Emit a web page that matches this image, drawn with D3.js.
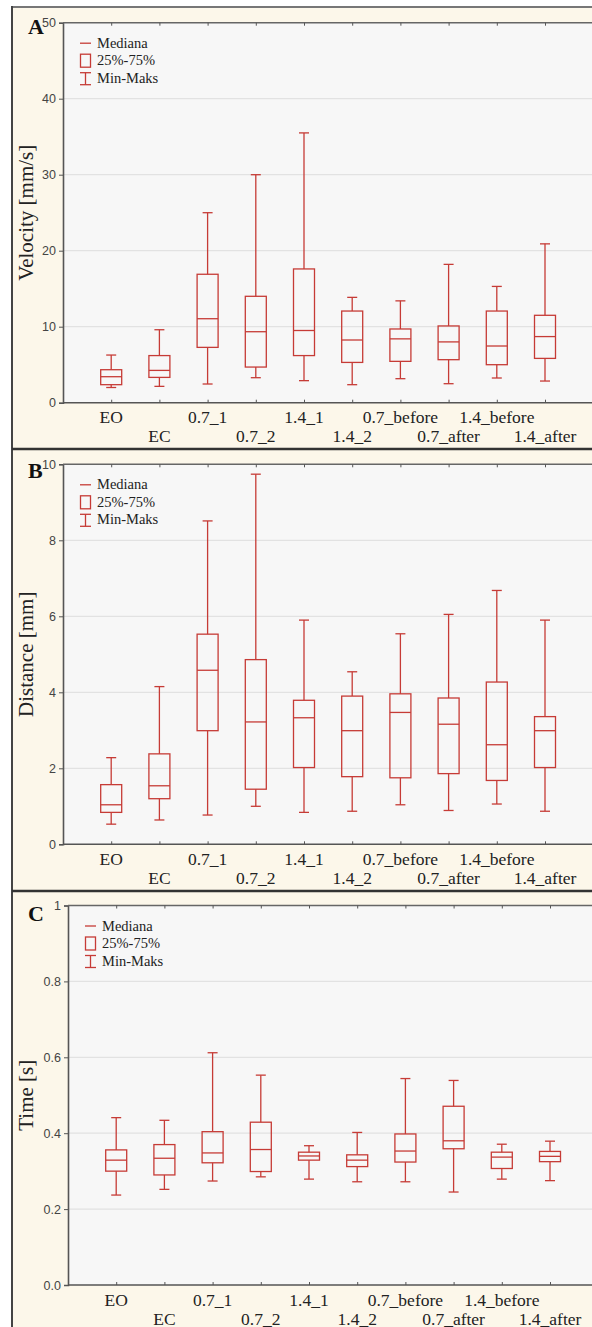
<!DOCTYPE html>
<html><head><meta charset="utf-8">
<script src="https://cdn.jsdelivr.net/npm/d3@7"></script>
<style>
html,body{margin:0;padding:0;background:#fff;}
svg{display:block;}
</style></head>
<body>
<svg id="chart" width="592" height="1327"></svg>
<script>
const categories = ["EO","EC","0.7_1","0.7_2","1.4_1","1.4_2","0.7_before","0.7_after","1.4_before","1.4_after"];

// Panel A: Velocity [mm/s]
const velMin = [2.0, 2.15, 2.46, 3.29, 2.9, 2.37, 3.16, 2.5, 3.25, 2.85];
const velQ1  = [2.37, 3.33, 7.28, 4.69, 6.2, 5.3, 5.44, 5.66, 5.0, 5.83];
const velMed = [3.42, 4.25, 11.05, 9.34, 9.5, 8.25, 8.4, 8.0, 7.46, 8.7];
const velQ3  = [4.34, 6.2, 16.9, 14.0, 17.6, 12.06, 9.7, 10.1, 12.06, 11.5];
const velMax = [6.27, 9.6, 25.0, 30.0, 35.5, 13.86, 13.4, 18.2, 15.3, 20.9];
const velTicks = [0, 10, 20, 30, 40, 50];
const velTickLabels = ["0","10","20","30","40","50"];

// Panel B: Distance [mm]
const distMin = [0.53, 0.64, 0.77, 1.0, 0.84, 0.87, 1.04, 0.89, 1.06, 0.87];
const distQ1  = [0.84, 1.2, 2.99, 1.45, 2.02, 1.78, 1.75, 1.86, 1.68, 2.02];
const distMed = [1.04, 1.54, 4.58, 3.22, 3.33, 2.99, 3.47, 3.16, 2.62, 2.99];
const distQ3  = [1.57, 2.38, 5.53, 4.86, 3.79, 3.9, 3.96, 3.85, 4.27, 3.36];
const distMax = [2.28, 4.15, 8.51, 9.74, 5.9, 4.54, 5.54, 6.05, 6.68, 5.9];
const distTicks = [0, 2, 4, 6, 8, 10];
const distTickLabels = ["0","2","4","6","8","10"];

// Panel C: Time [s]
const timeMin = [0.237, 0.252, 0.274, 0.285, 0.279, 0.272, 0.272, 0.245, 0.279, 0.275];
const timeQ1  = [0.300, 0.290, 0.322, 0.299, 0.329, 0.312, 0.324, 0.359, 0.307, 0.325];
const timeMed = [0.329, 0.334, 0.348, 0.357, 0.340, 0.329, 0.353, 0.380, 0.337, 0.339];
const timeQ3  = [0.356, 0.370, 0.404, 0.429, 0.350, 0.343, 0.398, 0.471, 0.350, 0.352];
const timeMax = [0.441, 0.434, 0.612, 0.553, 0.367, 0.402, 0.544, 0.539, 0.371, 0.379];
const timeTicks = [0, 0.2, 0.4, 0.6, 0.8, 1];
const timeTickLabels = ["0.0","0.2","0.4","0.6","0.8","1"];

const legendLabels = ["Mediana","25%-75%","Min-Maks"];

const RED = "#c63b36";
const CREAM = "#fcf7ea";
const PLOTBG = "#f7f7f7";
const GRID = "#e2e2e2";
const AXIS = "#555";
const SERIF = "'Liberation Serif','Times New Roman',serif";
const SANS = "'Liberation Sans',Arial,sans-serif";

const svg = d3.select("#chart");

// cream background of the framed figure
svg.append("rect").attr("x",12).attr("y",7).attr("width",592-12).attr("height",1327-7).attr("fill",CREAM);

const panels = [
  {letter:"A", title:"Velocity [mm/s]", frameTop:7, top:22.7, bottom:402.7, left:63, letterY:34,
   min:velMin,q1:velQ1,med:velMed,q3:velQ3,max:velMax,ticks:velTicks,tickLabels:velTickLabels,domain:[0,50]},
  {letter:"B", title:"Distance [mm]", frameTop:449, top:464.3, bottom:844.3, left:63, letterY:478,
   min:distMin,q1:distQ1,med:distMed,q3:distQ3,max:distMax,ticks:distTicks,tickLabels:distTickLabels,domain:[0,10]},
  {letter:"C", title:"Time [s]", frameTop:891, top:905.5, bottom:1285, left:68, letterY:921,
   min:timeMin,q1:timeQ1,med:timeMed,q3:timeQ3,max:timeMax,ticks:timeTicks,tickLabels:timeTickLabels,domain:[0,1]}
];

panels.forEach(p => {
  const right = p.left + 48.2*11;
  const x = d3.scalePoint().domain(categories).range([p.left, right]).padding(1);
  const y = d3.scaleLinear().domain(p.domain).range([p.bottom, p.top]);
  const g = svg.append("g");

  // plot background
  g.append("rect").attr("x",p.left).attr("y",p.top).attr("width",right-p.left).attr("height",p.bottom-p.top).attr("fill",PLOTBG);

  // gridlines
  g.append("g").selectAll("line").data(p.ticks.slice(1,-1)).join("line")
    .attr("x1",p.left).attr("x2",right).attr("y1",d=>y(d)).attr("y2",d=>y(d))
    .attr("stroke",GRID).attr("stroke-width",1.2);

  // left axis
  const yAxis = d3.axisLeft(y).tickValues(p.ticks).tickSize(4).tickPadding(3)
    .tickFormat((d,i)=>p.tickLabels[i]);
  const ya = g.append("g").attr("transform",`translate(${p.left},0)`).call(yAxis);
  ya.select(".domain").attr("stroke",AXIS).attr("stroke-width",1.6);
  ya.selectAll(".tick line").attr("stroke",AXIS).attr("stroke-width",1);
  ya.selectAll(".tick text").attr("font-family",SANS).attr("font-size",12.5).attr("fill","#444");

  // bottom axis (inward ticks), labels drawn separately in two rows
  const xb = d3.axisBottom(x).tickSize(-3).tickFormat("");
  const xa = g.append("g").attr("transform",`translate(0,${p.bottom})`).call(xb);
  xa.select(".domain").attr("stroke",AXIS).attr("stroke-width",1.6).attr("d",`M${p.left},0H${right}`);
  xa.selectAll(".tick line").attr("stroke",AXIS);

  // top axis (inward ticks)
  const xt = d3.axisTop(x).tickSize(-3).tickFormat("");
  const ta = g.append("g").attr("transform",`translate(0,${p.top})`).call(xt);
  ta.select(".domain").attr("stroke","#666").attr("stroke-width",1.6).attr("d",`M${p.left},0H${right}`);
  ta.selectAll(".tick line").attr("stroke",AXIS);

  // category labels in two rows
  g.append("g").selectAll("text").data(categories).join("text")
    .attr("x",d=>x(d)).attr("y",(d,i)=> p.bottom + (i%2===0 ? 20.5 : 39.5))
    .attr("text-anchor","middle").attr("font-family",SERIF).attr("font-size",17.5).attr("fill","#222")
    .text(d=>d);

  // y title
  g.append("text").attr("transform",`translate(33,${(p.top+p.bottom)/2}) rotate(-90)`)
    .attr("text-anchor","middle").attr("font-family",SERIF).attr("font-size",21).attr("fill","#222")
    .text(p.title);

  // panel letter
  g.append("text").attr("x",28).attr("y",p.letterY).attr("font-family",SERIF).attr("font-weight","bold")
    .attr("font-size",22).attr("fill","#111").text(p.letter);

  // boxes
  const bw = 21, cw = 10;
  const bx = g.append("g").attr("stroke",RED).attr("stroke-width",1.3).attr("fill","none");
  categories.forEach((c,i) => {
    const cx = x(c);
    // whiskers
    bx.append("line").attr("x1",cx).attr("x2",cx).attr("y1",y(p.max[i])).attr("y2",y(p.q3[i]));
    bx.append("line").attr("x1",cx).attr("x2",cx).attr("y1",y(p.q1[i])).attr("y2",y(p.min[i]));
    bx.append("line").attr("x1",cx-cw/2).attr("x2",cx+cw/2).attr("y1",y(p.max[i])).attr("y2",y(p.max[i]));
    bx.append("line").attr("x1",cx-cw/2).attr("x2",cx+cw/2).attr("y1",y(p.min[i])).attr("y2",y(p.min[i]));
    // box
    bx.append("rect").attr("x",cx-bw/2).attr("width",bw).attr("y",y(p.q3[i])).attr("height",y(p.q1[i])-y(p.q3[i]));
    // median
    bx.append("line").attr("x1",cx-bw/2).attr("x2",cx+bw/2).attr("y1",y(p.med[i])).attr("y2",y(p.med[i]));
  });

  // legend
  const lg = g.append("g");
  const lx = p.left + 17, tx = p.left + 34;
  lg.append("line").attr("x1",lx).attr("x2",lx+11).attr("y1",p.top+20.5).attr("y2",p.top+20.5).attr("stroke",RED).attr("stroke-width",1.3);
  lg.append("rect").attr("x",lx+0.5).attr("y",p.top+31.5).attr("width",10).attr("height",13).attr("fill","none").attr("stroke",RED).attr("stroke-width",1.3);
  lg.append("line").attr("x1",lx+5.5).attr("x2",lx+5.5).attr("y1",p.top+50).attr("y2",p.top+62).attr("stroke",RED).attr("stroke-width",1.3);
  lg.append("line").attr("x1",lx).attr("x2",lx+11).attr("y1",p.top+50).attr("y2",p.top+50).attr("stroke",RED).attr("stroke-width",1.3);
  lg.append("line").attr("x1",lx).attr("x2",lx+11).attr("y1",p.top+62).attr("y2",p.top+62).attr("stroke",RED).attr("stroke-width",1.3);
  lg.selectAll("text").data(legendLabels).join("text")
    .attr("x",tx).attr("y",(d,i)=>p.top+25+i*17.5)
    .attr("font-family",SERIF).attr("font-size",14.5).attr("fill","#222").text(d=>d);
});

// frame lines
svg.append("line").attr("x1",12).attr("x2",592).attr("y1",7).attr("y2",7).attr("stroke","#777").attr("stroke-width",2);
svg.append("line").attr("x1",12).attr("x2",12).attr("y1",6).attr("y2",1327).attr("stroke","#444").attr("stroke-width",2);
[449, 891].forEach(yy => {
  svg.append("line").attr("x1",12).attr("x2",592).attr("y1",yy).attr("y2",yy).attr("stroke","#333").attr("stroke-width",2.5);
});
</script>
</body></html>
